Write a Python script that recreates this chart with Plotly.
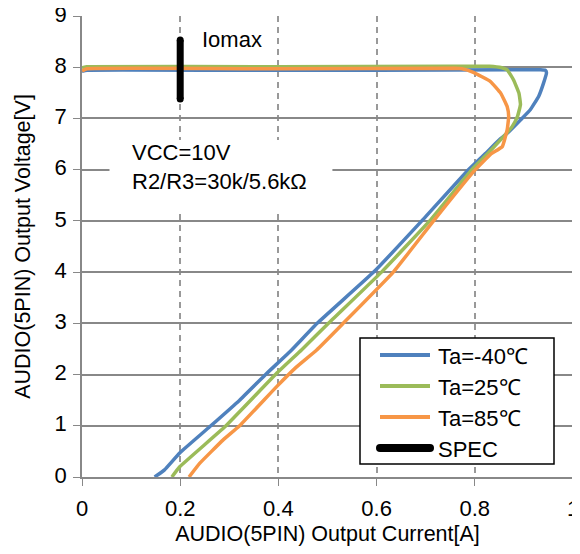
import plotly.graph_objects as go

# ---- data ----
series_names = ["Ta=-40℃", "Ta=25℃", "Ta=85℃"]
series_colors = ["#4f81bd", "#9bbb59", "#f79646"]

i_m40 = [0.0, 0.01, 0.3, 0.6, 0.9, 0.934, 0.944, 0.946, 0.94, 0.93, 0.913, 0.893, 0.866, 0.852, 0.82, 0.787,
         0.692, 0.594, 0.479, 0.427, 0.376, 0.321, 0.26, 0.199, 0.168, 0.148]
v_m40 = [7.92, 7.94, 7.94, 7.94, 7.95, 7.95, 7.94, 7.89, 7.69, 7.43, 7.17, 6.97, 6.71, 6.6, 6.3, 6.0,
         5.0, 4.0, 3.0, 2.48, 2.02, 1.5, 0.98, 0.47, 0.14, 0.0]

i_25 = [0.0, 0.01, 0.4, 0.75, 0.83, 0.855, 0.866, 0.879, 0.89, 0.893, 0.887, 0.876, 0.859, 0.825, 0.794,
        0.708, 0.61, 0.502, 0.447, 0.396, 0.291, 0.199, 0.183]
v_25 = [7.99, 8.01, 8.01, 8.02, 8.02, 7.99, 7.95, 7.75, 7.49, 7.27, 7.04, 6.84, 6.65, 6.3, 6.0,
        5.0, 4.0, 3.0, 2.48, 2.02, 0.98, 0.2, 0.0]

i_85 = [0.0, 0.01, 0.4, 0.76, 0.774, 0.797, 0.832, 0.853, 0.866, 0.869, 0.866, 0.856, 0.832, 0.801,
        0.716, 0.634, 0.532, 0.478, 0.437, 0.396, 0.321, 0.287, 0.24, 0.218]
v_85 = [7.93, 7.97, 7.97, 7.98, 7.97, 7.9, 7.72, 7.49, 7.23, 7.04, 6.78, 6.45, 6.3, 6.0,
        5.0, 4.0, 3.0, 2.48, 2.15, 1.76, 1.0, 0.72, 0.27, 0.0]

spec_name = "SPEC"
spec_i = [0.2, 0.2]
spec_v = [7.38, 8.53]

x_ticks = [0, 0.2, 0.4, 0.6, 0.8, 1]
x_ticklabels = ["0", "0.2", "0.4", "0.6", "0.8", "1"]
y_ticks = list(range(0, 10))

FONT = "Liberation Sans, Arial, sans-serif"

# the page body adds an 8px offset; size the figure to compensate
# (height kept small enough that the page does not scroll)
OFF = 8
W, H = 580 - OFF, 554 - 2 * OFF
ML, MT = 82 - OFF, 16 - OFF
PLOT_R, PLOT_B = 573 - OFF, 477 - OFF
MR, MB = W - PLOT_R, H - PLOT_B
PW, PH = W - ML - MR, H - MT - MB


def px(xp):  # screen pixel x -> paper
    return (xp - OFF - ML) / PW


def py(yp):  # screen pixel y -> paper
    return (H - MB - (yp - OFF)) / PH


fig = go.Figure()
for name, color, xs, ys in zip(series_names, series_colors,
                               [i_m40, i_25, i_85], [v_m40, v_25, v_85]):
    fig.add_trace(go.Scatter(x=xs, y=ys, mode="lines", name=name,
                             line=dict(color=color, width=3.5, shape="spline", smoothing=0.3)))

fig.add_trace(go.Scatter(x=spec_i, y=spec_v, mode="lines+markers", name=spec_name,
                         line=dict(color="black", width=7),
                         marker=dict(color="black", size=7)))

# white box behind the condition text
fig.add_shape(type="rect", xref="x", yref="y", x0=0.056, x1=0.51, y0=5.18, y1=6.58,
              fillcolor="white", line=dict(width=0), layer="between")

fig.add_annotation(x=0.24, y=8.54, xref="x", yref="y", text="Iomax", showarrow=False,
                   xanchor="left", yanchor="middle", font=dict(size=22, color="black", family=FONT))
fig.add_annotation(x=0.097, y=6.05, xref="x", yref="y", text="VCC=10V<br>R2/R3=30k/5.6kΩ",
                   showarrow=False, xanchor="left", yanchor="middle", align="left",
                   font=dict(size=22, color="black", family=FONT))

# ---- legend drawn manually ----
fig.add_shape(type="rect", xref="paper", yref="paper",
              x0=px(360), x1=px(554), y0=py(464), y1=py(338),
              fillcolor="white", line=dict(color="black", width=1.5), layer="above")
leg_names = series_names + [spec_name]
leg_colors = series_colors + ["black"]
leg_widths = [4, 4, 4, 8]
leg_y = [355, 386, 417, 448]
for nm, col, lw, yy in zip(leg_names, leg_colors, leg_widths, leg_y):
    fig.add_shape(type="line", xref="paper", yref="paper",
                  x0=px(380), x1=px(430), y0=py(yy), y1=py(yy),
                  line=dict(color=col, width=lw), layer="above")
    fig.add_annotation(x=px(436), y=py(yy + 1), xref="paper", yref="paper", text=nm,
                       showarrow=False, xanchor="left", yanchor="middle",
                       font=dict(size=22, color="black", family=FONT))
# round caps for SPEC legend line
for xx in (380, 430):
    fig.add_shape(type="circle", xref="paper", yref="paper",
                  x0=px(xx - 4), x1=px(xx + 4), y0=py(448 + 4), y1=py(448 - 4),
                  fillcolor="black", line=dict(width=0), layer="above")

fig.update_layout(
    width=W, height=H,
    margin=dict(l=ML, r=MR, t=MT, b=MB, autoexpand=False),
    paper_bgcolor="white", plot_bgcolor="white",
    font=dict(family=FONT, size=22, color="black"),
    showlegend=False,
)
fig.update_xaxes(range=[0, 1], tickvals=x_ticks, ticktext=x_ticklabels,
                 showgrid=True, gridcolor="#999999", griddash="6px,5px", gridwidth=1.5,
                 showline=True, linecolor="#888888", linewidth=1.5,
                 ticks="outside", ticklen=7, tickcolor="#888888",
                 zeroline=False, automargin=False, ticklabelstandoff=4,
                 ticklabeloverflow="allow",
                 title=dict(text="AUDIO(5PIN) Output Current[A]", font=dict(size=21.5), standoff=9),
                 tickfont=dict(size=22))
fig.update_yaxes(range=[0, 9], tickvals=y_ticks,
                 showgrid=True, gridcolor="#888888", gridwidth=1.5,
                 showline=True, linecolor="#888888", linewidth=1.5,
                 ticks="outside", ticklen=7, tickcolor="#888888",
                 zeroline=False, automargin=False, ticklabelstandoff=2, ticklabelshift=-2,
                 ticklabeloverflow="allow",
                 title=dict(text="AUDIO(5PIN) Output Voltage[V]", font=dict(size=21.5), standoff=18),
                 tickfont=dict(size=22))

fig.write_html("out.html")
